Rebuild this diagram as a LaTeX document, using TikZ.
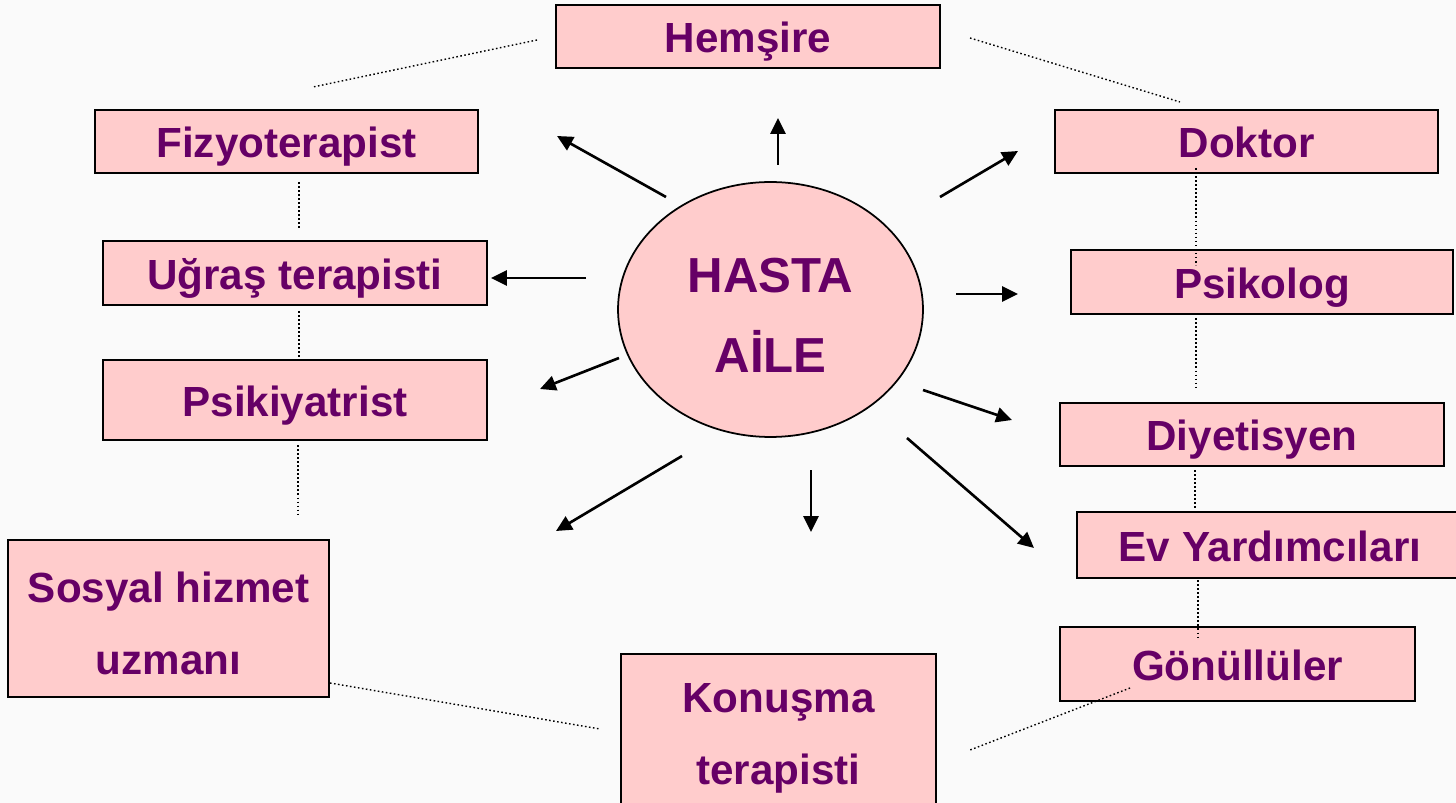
\documentclass[tikz,border=0pt]{standalone}
\usepackage{fontspec}
\setmainfont{Liberation Sans}
\usetikzlibrary{arrows.meta,shapes.geometric}
\definecolor{boxpink}{HTML}{FFCCCC}
\definecolor{textplum}{HTML}{660066}
\tikzset{
  role/.style={draw=black, line width=1.5pt, fill=boxpink, text=textplum,
    font=\fontsize{24}{41.5}\selectfont\bfseries, inner sep=0pt, align=center},
  oneline/.style={role, text height=0.66cm, text depth=0cm},
  link/.style={line width=0.8pt, dash pattern=on 0.9pt off 1.4pt},
  >={Triangle[length=9pt,width=8.5pt]},
}

\begin{document}
\begin{tikzpicture}[
  x=0.02cm, y=-0.02cm,
  arr/.style={->, line width=1.5pt}
]
  \useasboundingbox (0,0) rectangle (1456,803);
  \clip (0,0) rectangle (1456,803);
  \fill[black!2] (0,0) rectangle (1456,803);

  % centre
  \node[ellipse, draw, line width=1pt, fill=boxpink, text=textplum,
    minimum width=6.1cm, minimum height=5.1cm, inner sep=0pt, align=center,
    text height=2.54cm, text depth=0cm,
    font=\fontsize{28}{46}\selectfont\bfseries] (hasta) at (770.5,309.5) {HASTA\\AİLE};

  % left column
  \node[oneline, minimum width=7.68cm, minimum height=1.26cm] (hemsire) at (748,36.5) {Hemşire};
  \node[oneline, minimum width=7.66cm, minimum height=1.26cm] (fizyo) at (286.5,141.5) {Fizyoterapist};
  \node[oneline, minimum width=7.68cm, minimum height=1.28cm] (ugras) at (295,273) {Uğraş terapisti};
  \node[oneline, minimum width=7.68cm, minimum height=1.6cm] (psikiyatrist) at (295,400) {Psikiyatrist};
  \node[role, text height=2.26cm, text depth=0cm, minimum width=6.42cm, minimum height=3.14cm] (sosyal) at (168.5,618.5) {Sosyal hizmet\\uzmanı};
  \node[role, text height=2.08cm, text depth=0cm, minimum width=6.3cm, minimum height=3.16cm] (konusma) at (778.5,733) {Konuşma\\terapisti};

  % right column
  \node[oneline, minimum width=7.66cm, minimum height=1.26cm] (doktor) at (1246.5,141.5) {Doktor};
  \node[oneline, minimum width=7.64cm, minimum height=1.28cm] (psikolog) at (1262,282) {Psikolog};
  \node[oneline, minimum width=7.68cm, minimum height=1.26cm] (diyet) at (1252,434.5) {Diyetisyen};
  \node[oneline, minimum width=7.72cm, minimum height=1.32cm] (evyard) at (1270,545) {Ev Yardımcıları};
  \node[oneline, minimum width=7.1cm, minimum height=1.48cm] (gonullu) at (1237.5,664) {Gönüllüler};

  % arrow ends
  \coordinate (from1) at (666,197);  \coordinate (to1) at (557,136);
  \coordinate (from2) at (778,165);  \coordinate (to2) at (778,118);
  \coordinate (from3) at (940,197);  \coordinate (to3) at (1018,151);
  \coordinate (from4) at (586,278);  \coordinate (to4) at (491,278);
  \coordinate (from5) at (956,294);  \coordinate (to5) at (1018,294);
  \coordinate (from6) at (619,358);  \coordinate (to6) at (540,389);
  \coordinate (from7) at (923,390);  \coordinate (to7) at (1012,420);
  \coordinate (from8) at (682,456);  \coordinate (to8) at (556,531);
  \coordinate (from9) at (811,470);  \coordinate (to9) at (811,532);
  \coordinate (from10) at (907,438); \coordinate (to10) at (1034,548);
  \foreach \i in {1,...,10}
    \draw[arr] (from\i) -- (to\i);

  % dotted links
  \coordinate (p1) at (537,40);   \coordinate (q1) at (313,87);
  \coordinate (p2) at (970,38);   \coordinate (q2) at (1180,102);
  \coordinate (p3) at (299,182);  \coordinate (q3) at (299,230);
  \coordinate (p4) at (299,311);  \coordinate (q4) at (299,358);
  \coordinate (p5) at (298,445);  \coordinate (q5) at (298,516);
  \coordinate (p6) at (1196,168); \coordinate (q6) at (1196,265);
  \coordinate (p7) at (1196,318); \coordinate (q7) at (1196,390);
  \coordinate (p8) at (1195,470); \coordinate (q8) at (1195,510);
  \coordinate (p9) at (1198,580); \coordinate (q9) at (1198,640);
  \coordinate (p10) at (1130,688); \coordinate (q10) at (970,750);
  \coordinate (p11) at (330,683); \coordinate (q11) at (600,729);
  \foreach \i in {1,...,11}
    \draw[link] (p\i) -- (q\i);
\end{tikzpicture}
\end{document}
